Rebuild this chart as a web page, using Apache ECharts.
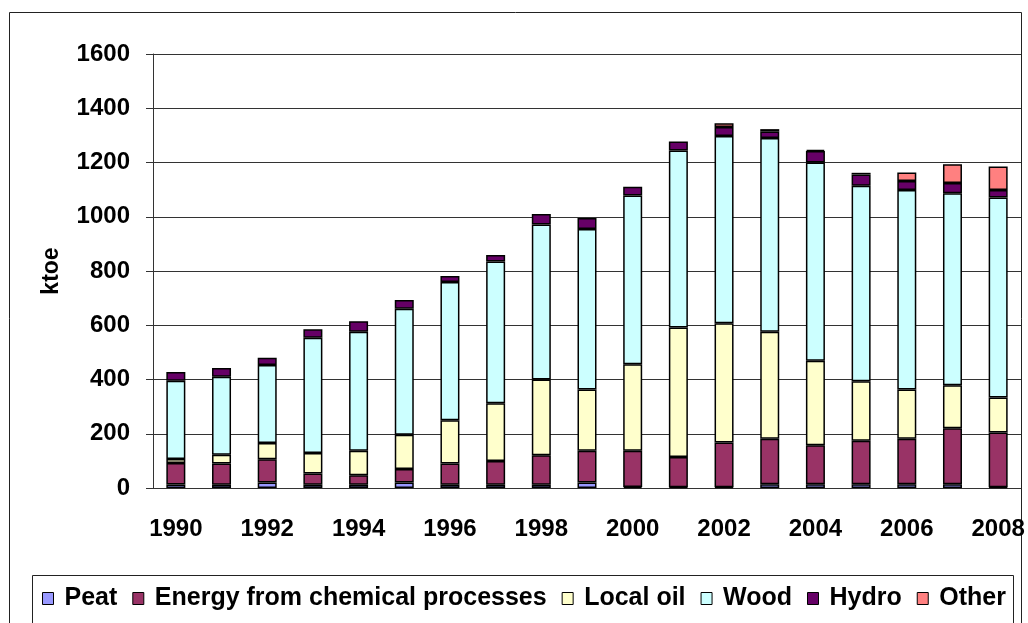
<!DOCTYPE html>
<html>
<head>
<meta charset="utf-8">
<script src="https://cdn.jsdelivr.net/npm/echarts@6/dist/echarts.min.js"></script>
<style>html,body{margin:0;padding:0;background:#fff;}#c{width:1028px;height:623px;}</style>
</head>
<body>
<div id="c"></div>
<script>
const years = ['1990','1991','1992','1993','1994','1995','1996','1997','1998','1999','2000','2001','2002','2003','2004','2005','2006','2007','2008'];
const peat = [13,12,20,12,12,20,12,12,12,20,4,3,3,14,14,14,14,14,3];
const energyChem = [79,78,86,41,35,50,78,88,109,117,133,111,165,168,144,160,168,206,202];
const localOil = [15,33,60,76,90,126,160,212,279,226,319,478,439,394,311,220,181,159,129];
const wood = [288,287,287,425,439,465,509,523,571,592,622,652,691,714,731,720,736,708,737];
const hydro = [33,32,27,31,39,32,23,24,39,40,33,33,33,24,42,42,33,37,28];
const other = [null,null,null,null,null,null,null,null,null,null,null,null,14,9,5,6,31,70,86];
const yTicks = [0,200,400,600,800,1000,1200,1400,1600];

const seriesDefs = [
  ['Peat', peat, '#9999FF'],
  ['Energy from chemical processes', energyChem, '#993366'],
  ['Local oil', localOil, '#FFFFCC'],
  ['Wood', wood, '#CCFFFF'],
  ['Hydro', hydro, '#660066'],
  ['Other', other, '#FF8080']
];

const font = 'Arial, "Liberation Sans", sans-serif';
const chart = echarts.init(document.getElementById('c'), null, {renderer: 'canvas'});
chart.setOption({
  animation: false,
  backgroundColor: '#fff',
  textStyle: {fontFamily: font},
  grid: {left: 153, right: 7, top: 54, bottom: 135, containLabel: false},
  legend: {
    left: 37, top: 581,
    icon: 'rect', itemWidth: 11, itemHeight: 12, itemGap: 15,
    itemStyle: {borderColor: '#000', borderWidth: 1},
    textStyle: {fontFamily: font, fontWeight: 'bold', fontSize: 25, color: '#000', padding: [0,0,0,6]},
    data: seriesDefs.map(d => d[0])
  },
  xAxis: {
    type: 'category', data: years,
    axisLine: {lineStyle: {color: '#333', width: 1}},
    axisTick: {interval: 0, length: 7, lineStyle: {color: '#333'}},
    axisLabel: {interval: 1, margin: 29, fontSize: 24, fontWeight: 'bold', color: '#000', fontFamily: font},
    splitLine: {show: false}
  },
  yAxis: {
    type: 'value', min: yTicks[0], max: yTicks[yTicks.length-1], interval: 200,
    name: 'ktoe', nameLocation: 'middle', nameGap: 90, nameRotate: 90,
    nameTextStyle: {fontSize: 23, fontWeight: 'bold', color: '#000', fontFamily: font},
    axisLine: {show: true, lineStyle: {color: '#333', width: 1}},
    axisTick: {show: true, length: 7, lineStyle: {color: '#333'}},
    axisLabel: {margin: 23, fontSize: 24, fontWeight: 'bold', color: '#000', fontFamily: font, formatter: v => String(v)},
    splitLine: {show: true, lineStyle: {color: '#333', width: 1}}
  },
  graphic: [
    {type: 'rect', shape: {x: 9.5, y: 12.5, width: 1012, height: 640}, style: {fill: null, stroke: '#222', lineWidth: 1}, silent: true, z: -1},
    {type: 'rect', shape: {x: 32.5, y: 575.5, width: 981, height: 60}, style: {fill: null, stroke: '#222', lineWidth: 1}, silent: true, z: -1}
  ],
  series: seriesDefs.map(d => ({
    name: d[0], type: 'bar', stack: 'total', data: d[1],
    barWidth: 19,
    itemStyle: {color: d[2], borderColor: '#000', borderWidth: 1.5}
  }))
});
</script>
</body>
</html>
